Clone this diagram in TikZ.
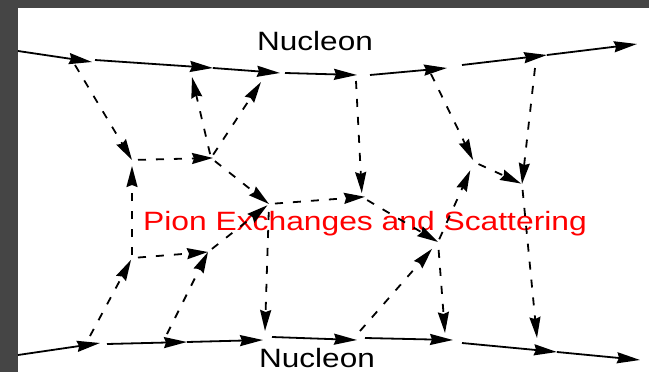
\documentclass[tikz,border=0pt]{standalone}
\usepackage{fontspec}
\usepackage{graphicx}
\setmainfont{Liberation Sans}
\usetikzlibrary{arrows.meta}
\definecolor{framegray}{RGB}{69,69,69}
\begin{document}
\begin{tikzpicture}[x=1pt,y=-1pt,
  nucleonline/.style={line width=1.8pt,-{Stealth[length=23pt,width=11pt,inset=2pt]}},
  pionline/.style={line width=1.8pt,dash pattern=on 8pt off 10pt,
    -{Stealth[length=21pt,width=11pt,inset=2pt]}},
  bigtext/.style={font=\fontsize{26.5}{30}\selectfont,inner sep=0pt,anchor=base}]
% frame and canvas
\fill[framegray] (0,0) rectangle (649,372);
\fill[white] (18,8) rectangle (649,372);
\useasboundingbox (0,0) rectangle (649,372);

% labels
\node[bigtext] (ntop) at (315,50) {\scalebox{1.19}[1]{Nucleon}};
\node[bigtext] (nbot) at (317,367) {\scalebox{1.19}[1]{Nucleon}};
\node[bigtext,text=red] (title) at (365,230) {\scalebox{1.2}[1]{Pion Exchanges and Scattering}};

% upper nucleon line
\coordinate (t0) at (18,51);
\coordinate (t1) at (92,62);
\coordinate (t1b) at (95,60);
\coordinate (t2) at (213,68);
\coordinate (t3) at (280,73);
\coordinate (t3b) at (285,73);
\coordinate (t4) at (357,75);
\coordinate (t4b) at (370,75);
\coordinate (t5) at (447,68);
\coordinate (t5b) at (462,65);
\coordinate (t6) at (547,55);
\coordinate (t7) at (637,44);

% lower nucleon line
\coordinate (b0) at (18,355);
\coordinate (b1) at (100,343);
\coordinate (b1b) at (107,344);
\coordinate (b2) at (187,342);
\coordinate (b3) at (263,340);
\coordinate (b3b) at (272,337);
\coordinate (b4) at (357,340);
\coordinate (b4b) at (365,338);
\coordinate (b5) at (453,340);
\coordinate (b5b) at (462,343);
\coordinate (b6) at (557,352);
\coordinate (b7) at (640,360);

% pion ends on the nucleon lines
\coordinate (q1) at (75,65);
\coordinate (q2) at (192,77);
\coordinate (q3) at (261,82);
\coordinate (q4) at (356,81);
\coordinate (q5) at (431,74);
\coordinate (q6) at (535,68);
\coordinate (r1) at (90,336);
\coordinate (r2) at (167,334);
\coordinate (r3) at (265,331);
\coordinate (r4) at (360,331);
\coordinate (r5) at (445,333);
\coordinate (r6) at (537,338);

% inner vertices
\coordinate (u1) at (132,160);
\coordinate (m1) at (211,158);
\coordinate (m2) at (269,204);
\coordinate (m3) at (362,197);
\coordinate (m4) at (438,242);
\coordinate (m5) at (474,162);
\coordinate (m6) at (522,184);
\coordinate (l1) at (132,258);
\coordinate (l2) at (208,252);

% nucleon lines
\draw[nucleonline] (t0) -- (t1);
\draw[nucleonline] (t1b) -- (t2);
\draw[nucleonline] (t2) -- (t3);
\draw[nucleonline] (t3b) -- (t4);
\draw[nucleonline] (t4b) -- (t5);
\draw[nucleonline] (t5b) -- (t6);
\draw[nucleonline] (t6) -- (t7);
\draw[nucleonline] (b0) -- (b1);
\draw[nucleonline] (b1b) -- (b2);
\draw[nucleonline] (b2) -- (b3);
\draw[nucleonline] (b3b) -- (b4);
\draw[nucleonline] (b4b) -- (b5);
\draw[nucleonline] (b5b) -- (b6);
\draw[nucleonline] (b6) -- (b7);

% pion lines
\draw[pionline] (q1) -- (u1);
\draw[pionline,shorten <=6pt,shorten >=-2pt] (u1) -- (m1);
\draw[pionline,shorten <=3pt,shorten >=6pt] (l1) -- (u1);
\draw[pionline,shorten <=4pt] (m1) -- (q2);
\draw[pionline,shorten <=4pt] (m1) -- (q3);
\draw[pionline,shorten <=5pt] (m1) -- (m2);
\draw[pionline,shorten <=6pt,shorten >=-3pt] (m2) -- (m3);
\draw[pionline,shorten >=4pt] (q4) -- (m3);
\draw[pionline,shorten <=6pt] (m3) -- (m4);
\draw[pionline,shorten >=2pt] (q5) -- (m5);
\draw[pionline,shorten <=3pt,shorten >=9pt] (m4) -- (m5);
\draw[pionline,shorten <=5pt,shorten >=1pt] (m5) -- (m6);
\draw[pionline] (q6) -- (m6);
\draw[pionline,shorten <=6pt] (m6) -- (r6);
\draw[pionline,shorten >=2pt] (r1) -- (l1);
\draw[pionline,shorten <=6pt] (l1) -- (l2);
\draw[pionline] (r2) -- (l2);
\draw[pionline,shorten <=5pt,shorten >=2pt] (l2) -- (m2);
\draw[pionline,shorten <=8pt] (m2) -- (r3);
\draw[pionline,shorten >=9pt] (r4) -- (m4);
\draw[pionline,shorten <=8pt] (m4) -- (r5);
\end{tikzpicture}
\end{document}
